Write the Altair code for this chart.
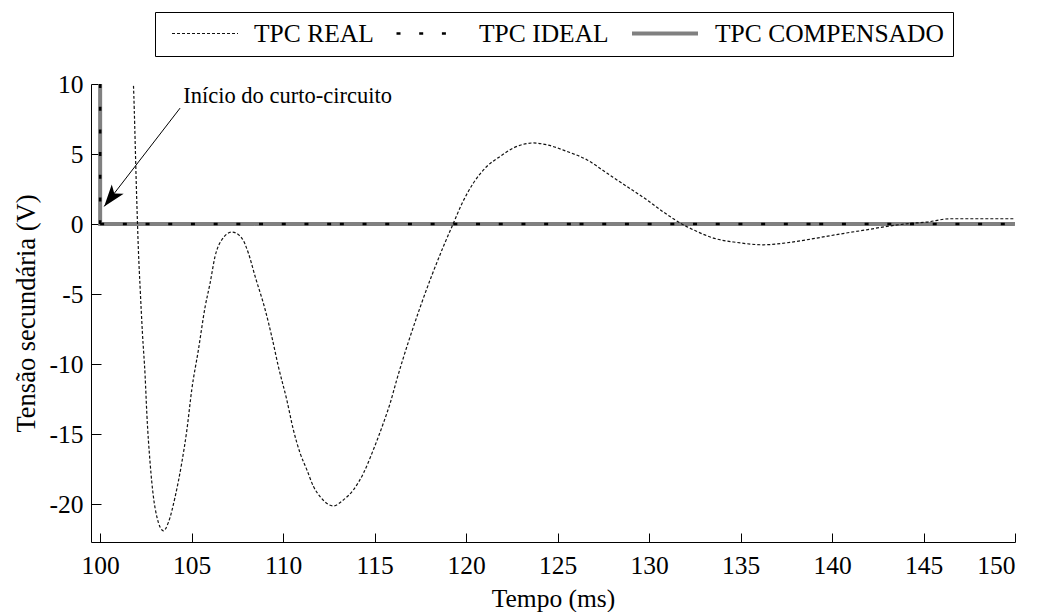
import altair as alt
import pandas as pd

# ---- data ----
series_names = ["TPC REAL", "TPC IDEAL", "TPC COMPENSADO"]

real_t = [101.75, 101.82, 102.00, 102.09, 102.19, 102.31, 102.46, 102.55, 102.73, 102.91,
          103.10, 103.46, 103.73, 104.10, 104.46, 104.74, 105.01, 105.37, 105.74, 106.01,
          106.28, 106.65, 107.20, 107.74, 108.10, 108.47, 109.02, 109.38, 109.74, 110.20,
          110.56, 110.93, 111.30, 111.66, 112.02, 112.75, 113.30, 113.84, 114.39, 114.93,
          115.48, 115.85, 116.21, 117.50, 118.76, 119.31, 119.77, 120.40, 121.13, 121.86,
          122.58, 123.68, 124.41, 125.50, 126.60, 127.69, 128.78, 129.87, 130.80, 131.87,
          132.42, 133.51, 134.79, 136.25, 137.70, 139.16, 140.44, 141.89, 142.99, 144.08,
          145.17, 146.45, 150.00]
real_v = [12.0, 9.95, 1.74, -1.84, -4.69, -7.76, -10.9, -13.5, -17.05, -19.46,
          -20.9, -21.9, -21.3, -19.46, -17.05, -14.7, -11.8, -8.98, -5.89, -4.21,
          -2.31, -1.12, -0.57, -1.0, -2.07, -3.74, -6.12, -8.03, -10.17, -12.55,
          -14.69, -16.36, -17.55, -18.74, -19.46, -20.12, -19.69, -18.98, -17.79, -16.12,
          -14.21, -12.79, -11.12, -5.9, -1.6, 0.07, 1.45, 2.93, 4.11, 4.83,
          5.43, 5.79, 5.66, 5.19, 4.59, 3.64, 2.69, 1.74, 0.85, -0.05,
          -0.41, -1.0, -1.31, -1.48, -1.31, -1.0, -0.71, -0.41, -0.17, 0.02,
          0.14, 0.38, 0.38]

ideal_t = [100, 100, 100, 113.1, 113.1, 126.2, 126.2, 139.3, 139.3, 150]
ideal_v = [10, 0, 0, 0, 0, 0, 0, 0, 0, 0]
ideal_seg = [0, 0, 1, 1, 2, 2, 3, 3, 4, 4]

comp_t = [100, 100, 150]
comp_v = [10, 0, 0]

x_ticks = [100, 105, 110, 115, 120, 125, 130, 135, 140, 145, 150]
y_ticks = [-20, -15, -10, -5, 0, 5, 10]
x_domain = [99.5, 150]
y_domain = [-22.7, 10]

annot_text = "Início do curto-circuito"
annot_pos = [104.54, 8.66]
arrow_from = [104.37, 8.28]
arrow_to = [100.22, 1.26]

# ---- tables ----
rows = []
for i, (t, v) in enumerate(zip(real_t, real_v)):
    rows.append({"t": t, "v": v, "serie": series_names[0], "seg": 0, "i": i})
for i, (t, v, s) in enumerate(zip(ideal_t, ideal_v, ideal_seg)):
    rows.append({"t": t, "v": v, "serie": series_names[1], "seg": s, "i": i})
for i, (t, v) in enumerate(zip(comp_t, comp_v)):
    rows.append({"t": t, "v": v, "serie": series_names[2], "seg": 0, "i": i})
df = pd.DataFrame(rows)

FONT = "Liberation Serif"
HYPHEN = "replace(datum.label, '\u2212', '-')"

leg = alt.Legend(title=None, orient="none", legendX=64, legendY=-72, direction="horizontal",
                 symbolType="stroke", symbolSize=4356, labelFont=FONT, labelFontSize=25.5,
                 labelColor="black", labelLimit=500, strokeColor="black", fillColor="white",
                 padding=9, clipHeight=25, columnPadding=14, labelOffset=15, symbolOffset=7)

color = alt.Color("serie:N", scale=alt.Scale(domain=series_names,
                                              range=["#111111", "#000000", "#808080"]), legend=leg)
dash = alt.StrokeDash("serie:N", scale=alt.Scale(domain=series_names,
                                                  range=[[3, 2], [4, 18.7], [1, 0]]), legend=leg)
width = alt.StrokeWidth("serie:N", scale=alt.Scale(domain=series_names,
                                                    range=[1.2, 4.0, 2.0]), legend=leg)

xscale = alt.Scale(domain=x_domain, nice=False, zero=False)
yscale = alt.Scale(domain=y_domain, nice=False, zero=False)

x_main_axis = alt.Axis(orient="bottom", values=x_ticks, ticks=False, domain=True, domainColor="black",
                       labelFont=FONT, labelFontSize=25.5, labelColor="black", labelPadding=11,
                       labelExpr=HYPHEN,
                       title="Tempo (ms)", titleFont=FONT, titleFontSize=25.5, titleFontWeight="normal",
                       titleColor="black", titlePadding=8, grid=False)
y_main_axis = alt.Axis(orient="left", values=y_ticks, ticks=False, domain=True, domainColor="black",
                       labelFont=FONT, labelFontSize=25.5, labelColor="black", labelPadding=8,
                       labelExpr=HYPHEN,
                       title="Tensão secundária (V)", titleFont=FONT, titleFontSize=26.5,
                       titleFontWeight="normal", titleColor="black", titlePadding=9, grid=False)
x_tick_axis = alt.Axis(orient="bottom", values=x_ticks, offset=-9, tickSize=9, ticks=True,
                       tickColor="black", domain=False, labels=False, title=None, grid=False)
y_tick_axis = alt.Axis(orient="left", values=y_ticks, offset=-10, tickSize=10, ticks=True,
                       tickColor="black", domain=False, labels=False, title=None, grid=False)

base = alt.Chart(df)

comp_layer = base.transform_filter(alt.datum.serie == series_names[2]).mark_line(clip=True).encode(
    x=alt.X("t:Q", scale=xscale, axis=x_main_axis),
    y=alt.Y("v:Q", scale=yscale, axis=y_main_axis),
    color=color, strokeDash=dash, strokeWidth=width,
    detail="seg:N", order=alt.Order("i:Q"))

real_layer = base.transform_filter(alt.datum.serie == series_names[0]).mark_line(
    clip=True, interpolate="monotone").encode(
    x=alt.X("t:Q", scale=xscale, axis=x_tick_axis),
    y=alt.Y("v:Q", scale=yscale, axis=y_tick_axis),
    color=color, strokeDash=dash, strokeWidth=width,
    detail="seg:N", order=alt.Order("i:Q"))

ideal_layer = base.transform_filter(alt.datum.serie == series_names[1]).mark_line(clip=True).encode(
    x=alt.X("t:Q", scale=xscale, axis=None),
    y=alt.Y("v:Q", scale=yscale, axis=None),
    color=color, strokeDash=dash, strokeWidth=width,
    detail="seg:N", order=alt.Order("i:Q"))

ann_df = pd.DataFrame({"x": [arrow_from[0]], "y": [arrow_from[1]],
                       "x2": [arrow_to[0]], "y2": [arrow_to[1]],
                       "tx": [annot_pos[0]], "ty": [annot_pos[1]], "label": [annot_text]})
ann = alt.Chart(ann_df)

arrow_rule = ann.mark_rule(color="black", strokeWidth=1).encode(
    x=alt.X("x:Q", scale=xscale, axis=None), y=alt.Y("y:Q", scale=yscale, axis=None),
    x2="x2:Q", y2="y2:Q")
arrow_head = ann.mark_point(shape="M0,0L0.55,1.6L0,1.2L-0.55,1.6Z", filled=True, color="black",
                            size=756, angle=218, opacity=1, strokeWidth=0).encode(
    x=alt.X("x2:Q", scale=xscale, axis=None), y=alt.Y("y2:Q", scale=yscale, axis=None))
ann_text = ann.mark_text(align="left", baseline="alphabetic", font=FONT, fontSize=22.5,
                         color="black").encode(
    x=alt.X("tx:Q", scale=xscale, axis=None), y=alt.Y("ty:Q", scale=yscale, axis=None),
    text="label:N")

chart = alt.layer(comp_layer, real_layer, ideal_layer, arrow_rule, arrow_head, ann_text).resolve_axis(
    x="independent", y="independent"
).properties(
    width=924, height=458,
    padding={"left": 91, "top": 84, "right": 22, "bottom": 70},
    autosize=alt.AutoSizeParams(type="none"),
    background="white",
).configure_view(strokeOpacity=0)

chart.save("out.html", embed_options={"renderer": "svg", "actions": False})
